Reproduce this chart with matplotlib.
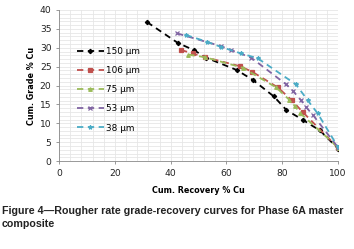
import matplotlib.pyplot as plt
from matplotlib.ticker import MultipleLocator

# Данные (Cum. Recovery % Cu, Cum. Grade % Cu)
rec_150 = [31.5, 42.5, 48.5, 52.6, 63.7, 69.6, 77.0, 81.5, 87.6, 93.5, 100]
grade_150 = [36.8, 31.3, 29.3, 27.4, 24.1, 21.4, 17.1, 13.5, 10.8, 8.1, 3.3]

rec_106 = [43.7, 47.9, 52.3, 64.9, 69.3, 78.4, 83.4, 87.3, 100]
grade_106 = [29.4, 28.5, 27.5, 25.1, 23.6, 19.5, 16.1, 13.0, 3.5]

rec_75 = [46.3, 52.3, 65.8, 77.8, 82.4, 84.6, 86.4, 100]
grade_75 = [28.2, 27.5, 24.7, 19.5, 16.3, 14.5, 12.7, 3.6]

rec_53 = [42.3, 58.1, 61.6, 68.8, 81.4, 83.8, 86.7, 88.5, 91.1, 100]
grade_53 = [33.8, 30.4, 29.4, 27.4, 20.3, 18.6, 16.1, 14.3, 12.1, 3.6]

rec_38 = [45.4, 52.9, 58.1, 65.2, 71.2, 84.9, 89.1, 92.7, 100]
grade_38 = [33.4, 31.6, 30.2, 28.5, 27.2, 20.3, 16.1, 12.6, 3.7]

labels = ['150 µm', '106 µm', '75 µm', '53 µm', '38 µm']

fig = plt.figure(figsize=(3.54, 2.49), dpi=100)
ax = fig.add_axes([0.167, 0.353, 0.788, 0.607])

styles = [('#000000', 'D', 2.2), ('#C0504D', 's', 2.4), ('#9BBB59', '^', 2.6),
          ('#8064A2', 'x', 2.6), ('#4BACC6', '*', 3.0)]
series = [(rec_150, grade_150), (rec_106, grade_106), (rec_75, grade_75),
          (rec_53, grade_53), (rec_38, grade_38)]

for (x, y), (c, m, ms), lab in zip(series, styles, labels):
    ax.plot(x, y, color=c, ls=(0, (3.5, 2.5)), lw=1.3, marker=m, ms=ms,
            mec=c, mfc=c, mew=0.9, label=lab)

ax.set_xlim(0, 100)
ax.set_ylim(0, 40)
ax.xaxis.set_major_locator(MultipleLocator(20))
ax.xaxis.set_minor_locator(MultipleLocator(4))
ax.yaxis.set_major_locator(MultipleLocator(5))
ax.yaxis.set_minor_locator(MultipleLocator(1))
ax.grid(True, which='both', color='#E6E6E6', lw=0.6)
ax.set_axisbelow(True)
ax.tick_params(which='minor', length=0)
ax.tick_params(which='major', length=2.5, width=0.6, color='#888888',
               labelsize=6.6, labelcolor='#222222', pad=3)
for s in ['top', 'right']:
    ax.spines[s].set_visible(False)
for s in ['left', 'bottom']:
    ax.spines[s].set_color('#888888')
    ax.spines[s].set_linewidth(0.6)

ax.set_xlabel('Cum. Recovery % Cu', fontsize=5.8, fontweight='bold', labelpad=6)
ax.set_ylabel('Cum. Grade % Cu', fontsize=5.8, fontweight='bold', labelpad=3)

ax.legend(loc='upper left', bbox_to_anchor=(0.035, 0.81), frameon=False,
          fontsize=6.4, handlelength=3.0, labelspacing=1.15, handletextpad=0.3)

fig.text(0.006, 0.172, 'Figure 4\u2014Rougher rate grade-recovery curves for Phase 6A master\ncomposite',
         fontsize=7.7, fontweight='bold', family='Liberation Sans', color='#222222',
         va='top', ha='left', linespacing=1.4)

fig.savefig('out.png', dpi=100)
